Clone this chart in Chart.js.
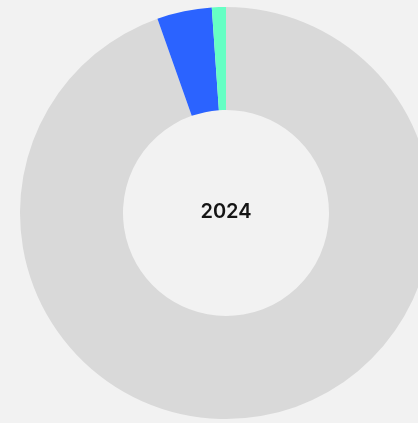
<!DOCTYPE html>
<html>
<head>
<meta charset="utf-8">
<script src="https://cdn.jsdelivr.net/npm/chart.js@4"></script>
<style>
  html, body { margin: 0; padding: 0; background: #f2f2f2; overflow: hidden; }
  #wrap { position: absolute; left: 0; top: 0; width: 452px; height: 426px; }
</style>
</head>
<body>
<div id="wrap"><canvas id="shareChart"></canvas></div>
<script>
// slices, clockwise from 12 o'clock
const labels = ['Other', 'Segment B', 'Segment A'];
const values = [94.6, 4.3, 1.1];
const colors = ['#d9d9d9', '#2b63ff', '#66ffc4'];
const centerLabel = '2024';

const centerText = {
  id: 'centerText',
  afterDraw(chart) {
    const { ctx } = chart;
    const meta = chart.getDatasetMeta(0).data[0];
    ctx.save();
    ctx.font = '600 20px Inter, "DejaVu Sans", sans-serif';
    ctx.fillStyle = '#151515';
    ctx.textAlign = 'center';
    ctx.textBaseline = 'middle';
    ctx.fillText(centerLabel, meta.x, meta.y - 1);
    ctx.restore();
  }
};

new Chart(document.getElementById('shareChart'), {
  type: 'doughnut',
  data: {
    labels: labels,
    datasets: [{ data: values, backgroundColor: colors, borderWidth: 0 }]
  },
  options: {
    responsive: true,
    maintainAspectRatio: false,
    animation: false,
    cutout: '50%',
    layout: { padding: { top: 7, bottom: 7 } },
    plugins: {
      legend: { display: false },
      tooltip: { enabled: false }
    }
  },
  plugins: [centerText]
});
</script>
</body>
</html>
